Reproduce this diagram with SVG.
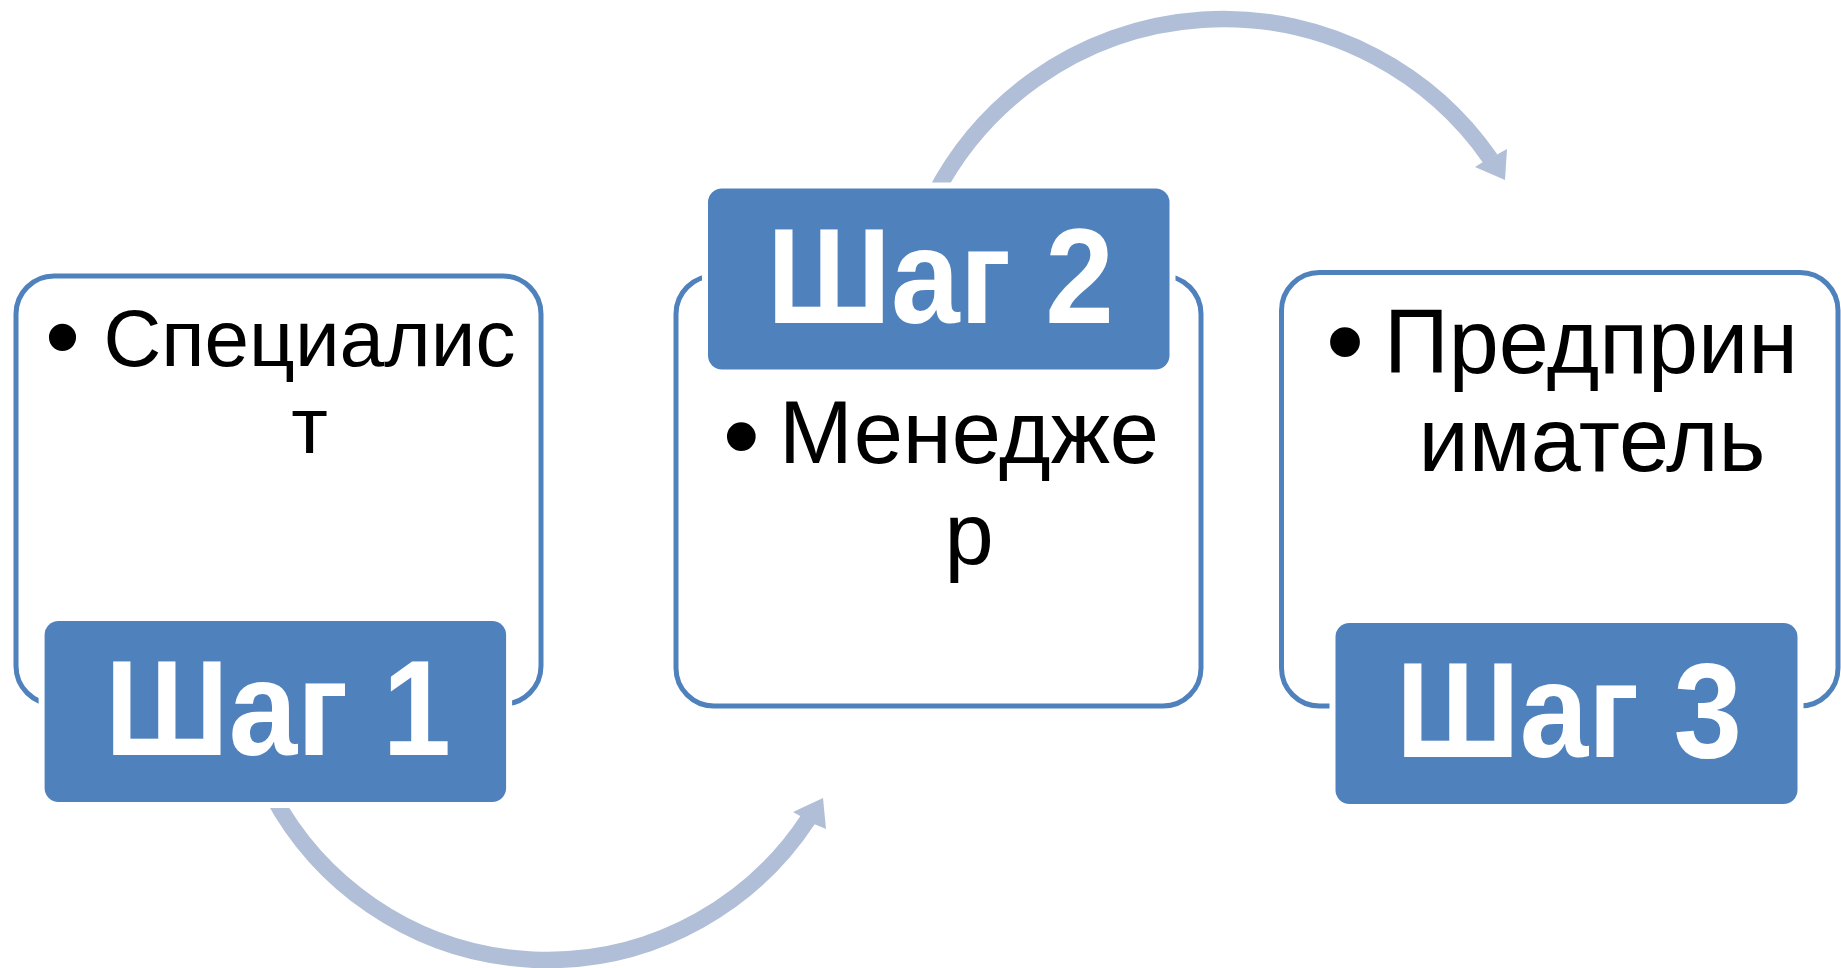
<svg xmlns="http://www.w3.org/2000/svg" width="1841" height="968" viewBox="0 0 1841 968">
<style>
.outline{fill:#FFFFFF;stroke:#4F81BD;stroke-width:5}
.tab{fill:#4F81BD;stroke:#FFFFFF;stroke-width:12;paint-order:stroke fill}
.tabtxt{font-family:"Liberation Sans",Arial,sans-serif;font-weight:bold;font-size:136px;fill:#FFFFFF;text-anchor:middle}
.body{font-family:"Liberation Sans",Arial,sans-serif;fill:#000000;text-anchor:middle}
.arc{fill:none;stroke:#B0BFD7;stroke-width:16.5}
.head{fill:#B0BFD7}
</style>
<rect width="1841" height="968" fill="#FFFFFF"/>
<g id="box1-outline"><rect class="outline" x="16" y="276" width="525" height="428" rx="38"/></g>
<g id="box2-outline"><rect class="outline" x="676" y="276" width="525" height="430" rx="38"/></g>
<g id="box3-outline"><rect class="outline" x="1281.5" y="272.5" width="556.5" height="433.5" rx="38"/></g>
<g id="connectors">
<path class="arc" d="M 272.2 795 A 312 312 0 0 0 808 819.5"/>
<polygon class="head" points="823,798 793,812 802,817 814,824 826,829"/>
<path class="arc" d="M 934.5 195 A 325 325 0 0 1 1490.5 159"/>
<polygon class="head" points="1505,180 1475,167 1483,162 1498,154 1507,149"/>
</g>
<g id="node1">
<text class="body" font-size="100" x="62.5" y="371">•</text>
<text class="body" font-size="80" x="309.5" y="366">Специалис</text>
<text class="body" font-size="80" x="309.5" y="453">т</text>
<rect class="tab" x="44.6" y="621" width="461.5" height="181" rx="14"/>
<text class="tabtxt" x="278" y="754.6" textLength="346" lengthAdjust="spacingAndGlyphs">Шаг 1</text>
</g>
<g id="node2">
<text class="body" font-size="106" x="741.4" y="471.6">•</text>
<text class="body" font-size="88.5" x="969" y="463">Менедже</text>
<text class="body" font-size="88.5" x="969" y="564">р</text>
<rect class="tab" x="708" y="188.5" width="461.5" height="181" rx="14"/>
<text class="tabtxt" x="940.5" y="322.5" textLength="347" lengthAdjust="spacingAndGlyphs">Шаг 2</text>
</g>
<g id="node3">
<text class="body" font-size="110" x="1345" y="378">•</text>
<text class="body" font-size="90" x="1591" y="373">Предприн</text>
<text class="body" font-size="90" x="1592" y="470.7">иматель</text>
<rect class="tab" x="1335.5" y="623" width="462" height="181" rx="14"/>
<text class="tabtxt" x="1569" y="757" textLength="346" lengthAdjust="spacingAndGlyphs">Шаг 3</text>
</g>
</svg>
